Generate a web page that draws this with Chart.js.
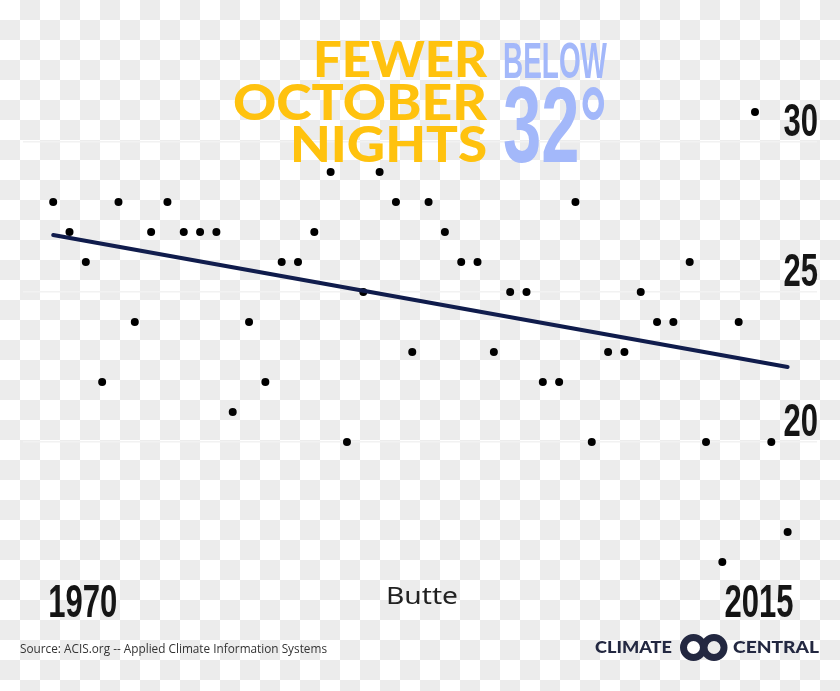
<!DOCTYPE html>
<html>
<head>
<meta charset="utf-8">
<script src="https://cdn.jsdelivr.net/npm/chart.js@4.4.1/dist/chart.umd.min.js"></script>
<style>
  html, body { margin: 0; padding: 0; }
  body {
    width: 840px; height: 691px; overflow: hidden;
    background: repeating-conic-gradient(#ececec 0 25%, #fff 0 50%) 0 0 / 40px 40px;
  }
  .wrap { position: relative; width: 840px; height: 691px; }
  canvas { position: absolute; left: 0; top: 0; }
  svg { position: absolute; left: 0; top: 0; pointer-events: none; }
</style>
</head>
<body>
<div class="wrap">
  <canvas id="chart" width="840" height="691"></canvas>
  <svg width="840" height="691">
    <g font-family="Lato, 'Open Sans', sans-serif" font-weight="900" fill="#ffc20e" text-anchor="end" font-size="50">
      <text x="487" y="77" textLength="174" lengthAdjust="spacingAndGlyphs">FEWER</text>
      <text x="487" y="120" textLength="254" lengthAdjust="spacingAndGlyphs">OCTOBER</text>
      <text x="487" y="162" textLength="197" lengthAdjust="spacingAndGlyphs">NIGHTS</text>
    </g>
    <g font-family="'Liberation Sans Narrow', 'Liberation Sans', sans-serif" font-weight="700" fill="#a3b8fa">
      <text x="503" y="78" font-size="50" textLength="104" lengthAdjust="spacingAndGlyphs">BELOW</text>
      <text x="503" y="162" font-size="108" textLength="104" lengthAdjust="spacingAndGlyphs">32°</text>
    </g>
    <text x="422" y="604" text-anchor="middle" font-family="'Noto Sans', sans-serif" font-size="23" fill="#222" textLength="72" lengthAdjust="spacingAndGlyphs">Butte</text>
    <text x="20" y="653" font-family="'Open Sans', sans-serif" font-size="12.5" fill="#333" textLength="307" lengthAdjust="spacingAndGlyphs">Source: ACIS.org -- Applied Climate Information Systems</text>
    <g font-family="Lato, sans-serif" font-weight="900" font-size="16" fill="#232841">
      <text x="595" y="653" textLength="77" lengthAdjust="spacingAndGlyphs">CLIMATE</text>
      <text x="733" y="653" textLength="86" lengthAdjust="spacingAndGlyphs">CENTRAL</text>
    </g>
    <g fill="none" stroke="#232841" stroke-width="7">
      <circle cx="693.5" cy="647.5" r="10"/>
      <circle cx="714" cy="647.5" r="10"/>
    </g>
  </svg>
</div>
<script>
// October nights below 32°F, Butte
const years = [1970, 1971, 1972, 1973, 1974, 1975, 1976, 1977, 1978, 1979,
               1980, 1981, 1982, 1983, 1984, 1985, 1986, 1987, 1988, 1989,
               1990, 1991, 1992, 1993, 1994, 1995, 1996, 1997, 1998, 1999,
               2000, 2001, 2002, 2003, 2004, 2005, 2006, 2007, 2008, 2009,
               2010, 2011, 2012, 2013, 2014, 2015];
const nights = [28, 27, 26, 22, 28, 24, 27, 28, 27, 27,
                27, 21, 24, 22, 26, 26, 27, 29, 20, 25,
                29, 28, 23, 28, 27, 26, 26, 23, 25, 25,
                22, 22, 28, 20, 23, 23, 25, 24, 24, 26,
                20, 16, 24, 31, 20, 17];
const trendYears = [1970, 2015];
const trendValues = [26.9, 22.5];
const yTicks = [20, 25, 30];
const xTicks = [1970, 2015];

// condensed tick labels, placed from the scales
const tickLabels = {
  id: 'tickLabels',
  afterDraw(chart) {
    const ctx = chart.ctx;
    const xs = chart.scales.x, ys = chart.scales.y;
    const squeeze = 0.66;
    ctx.save();
    ctx.fillStyle = '#151515';
    ctx.font = 'bold 47px "Liberation Sans", Arial, sans-serif';
    ctx.textBaseline = 'alphabetic';
    ctx.textAlign = 'left';
    const put = (txt, px, py, align) => {
      const w = ctx.measureText(txt).width * squeeze;
      const left = align === 'right' ? px - w : px;
      ctx.save();
      ctx.translate(left, py);
      ctx.scale(squeeze, 1);
      ctx.fillText(txt, 0, 0);
      ctx.restore();
    };
    ys.ticks.forEach(t => {
      put(String(t.value), chart.chartArea.right + 1, ys.getPixelForValue(t.value) - 6.5, 'right');
    });
    xs.ticks.forEach((t, i) => {
      const px = xs.getPixelForValue(t.value);
      if (i === 0) put(String(t.value), px - 5, chart.chartArea.bottom + 40, 'left');
      else put(String(t.value), px + 6, chart.chartArea.bottom + 40, 'right');
    });
    ctx.restore();
  }
};

new Chart(document.getElementById('chart'), {
  type: 'scatter',
  data: {
    datasets: [
      {
        type: 'line',
        data: trendYears.map((x, i) => ({ x, y: trendValues[i] })),
        borderColor: '#101c4c',
        borderWidth: 4,
        borderCapStyle: 'round',
        pointRadius: 0,
        fill: false,
        order: 0
      },
      {
        data: years.map((x, i) => ({ x, y: nights[i] })),
        pointRadius: 4,
        pointBackgroundColor: '#000',
        pointBorderWidth: 0,
        order: 1
      }
    ]
  },
  options: {
    responsive: false,
    animation: false,
    events: [],
    layout: { padding: { left: 23, right: 23, top: 52, bottom: 114 } },
    plugins: { legend: { display: false }, tooltip: { enabled: false } },
    scales: {
      x: {
        type: 'linear',
        min: 1968.15,
        max: 2016.8,
        afterBuildTicks: s => { s.ticks = xTicks.map(v => ({ value: v })); },
        ticks: { display: false },
        grid: { display: false, drawTicks: false },
        border: { display: false }
      },
      y: {
        position: 'right',
        min: 15.5,
        max: 33,
        afterBuildTicks: s => { s.ticks = yTicks.map(v => ({ value: v })); },
        ticks: { display: false },
        grid: { color: '#f2f2f2', lineWidth: 1.5, drawTicks: false },
        border: { display: false }
      }
    }
  },
  plugins: [tickLabels]
});
</script>
</body>
</html>
